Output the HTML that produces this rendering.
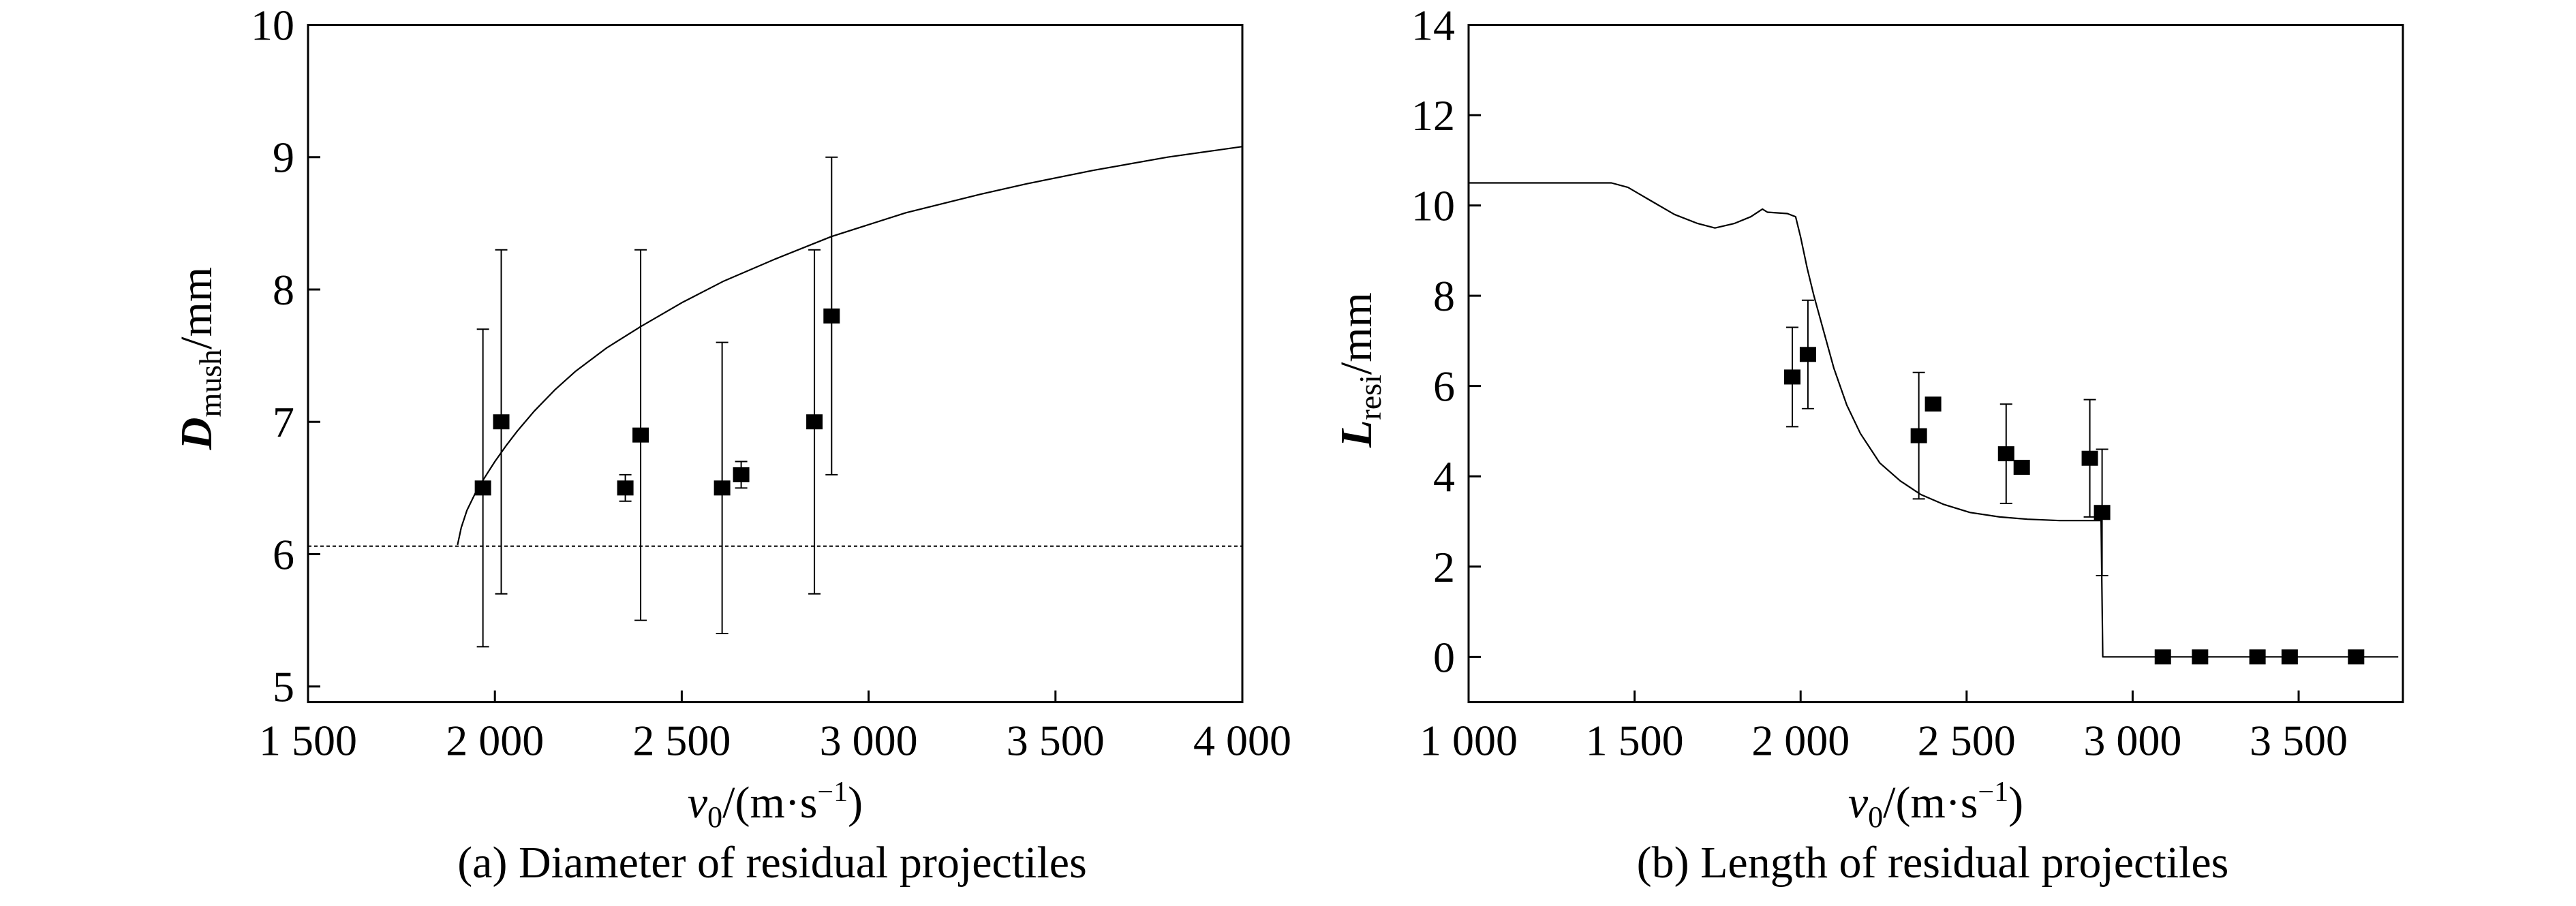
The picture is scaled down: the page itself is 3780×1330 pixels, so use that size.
<!DOCTYPE html>
<html><head><meta charset="utf-8"><style>
html,body{margin:0;padding:0;background:#fff}
svg{display:block}
svg text{font-family:"Liberation Serif","Times New Roman",Times,"Nimbus Roman","DejaVu Serif",serif}
</style></head><body>
<svg id="fig" width="3780" height="1330" viewBox="0 0 3780 1330" xmlns="http://www.w3.org/2000/svg">
<g id="ga"></g>
<g id="gb"></g>
</svg>
<script>
// ---- Chart (a) data ----
const aXTicks = [1500, 2000, 2500, 3000, 3500, 4000];
const aXTickLabels = ["1 500", "2 000", "2 500", "3 000", "3 500", "4 000"];
const aYTicks = [5, 6, 7, 8, 9, 10];
const aYTickLabels = ["5", "6", "7", "8", "9", "10"];
const aPtX = [1968, 2017, 2349, 2390, 2608, 2659, 2855, 2901];
const aPtY = [6.5, 7.0, 6.5, 6.9, 6.5, 6.6, 7.0, 7.8];
const aErrLo = [5.3, 5.7, 6.4, 5.5, 5.4, 6.5, 5.7, 6.6];
const aErrHi = [7.7, 8.3, 6.6, 8.3, 7.6, 6.7, 8.3, 9.0];
const aCurveX = [1900, 1910, 1925, 1951, 1975, 2000, 2030, 2060, 2105, 2160, 2215, 2300, 2390, 2500, 2610, 2750, 2900, 3100, 3300, 3425, 3600, 3800, 4000];
const aCurveY = [6.07, 6.2, 6.33, 6.48, 6.59, 6.7, 6.82, 6.93, 7.08, 7.24, 7.38, 7.56, 7.72, 7.9, 8.06, 8.23, 8.4, 8.58, 8.72, 8.8, 8.9, 9.0, 9.08];
const aDashY = [6.06];

// ---- Chart (b) data ----
const bXTicks = [1000, 1500, 2000, 2500, 3000, 3500];
const bXTickLabels = ["1 000", "1 500", "2 000", "2 500", "3 000", "3 500"];
const bYTicks = [0, 2, 4, 6, 8, 10, 12, 14];
const bYTickLabels = ["0", "2", "4", "6", "8", "10", "12", "14"];
const bPtX = [1975, 2022, 2356, 2399, 2619, 2666, 2871, 2908, 3091, 3203, 3376, 3473, 3673];
const bPtY = [6.2, 6.7, 4.9, 5.6, 4.5, 4.2, 4.4, 3.2, 0, 0, 0, 0, 0];
const bErrX = [1975, 2022, 2356, 2619, 2871, 2908];
const bErrLo = [5.1, 5.5, 3.5, 3.4, 3.1, 1.8];
const bErrHi = [7.3, 7.9, 6.3, 5.6, 5.7, 4.6];
const bCurveX = [1000, 1430, 1480, 1550, 1620, 1690, 1742, 1800, 1850, 1885, 1900, 1960, 1985, 2000, 2020, 2040, 2070, 2100, 2139, 2180, 2238, 2300, 2361, 2430, 2510, 2600, 2683, 2780, 2880, 2905, 2910, 3800];
const bCurveY = [10.5, 10.5, 10.4, 10.1, 9.8, 9.6, 9.5, 9.6, 9.75, 9.92, 9.85, 9.82, 9.75, 9.3, 8.6, 8.0, 7.2, 6.4, 5.58, 4.95, 4.3, 3.9, 3.6, 3.38, 3.2, 3.1, 3.05, 3.02, 3.02, 3.02, 0, 0];

const NS = "http://www.w3.org/2000/svg";
function mk(parent, tag, attrs, txt) {
  const e = document.createElementNS(NS, tag);
  for (const k in attrs) e.setAttribute(k, attrs[k]);
  if (txt !== undefined) e.textContent = txt;
  parent.appendChild(e);
  return e;
}

function drawChart(g, o) {
  const L = o.left, R = o.right, T = o.top, B = o.bottom;
  const sx = v => L + (v - o.xmin) / (o.xmax - o.xmin) * (R - L);
  const sy = v => B - (v - o.ymin) / (o.ymax - o.ymin) * (B - T);

  const fr = mk(g, "rect", {x: L, y: T, width: R - L, height: B - T, fill: "none", stroke: "#000", "stroke-width": 3});
  
  

  o.xt.forEach((v, i) => {
    const x = sx(v);
    const t = mk(g, "line", {x1: x, y1: B, x2: x, y2: B - 17, stroke: "#000", "stroke-width": 3});
    
    
    const lb = mk(g, "text", {x: x, y: B + 78, "font-size": 64, "text-anchor": "middle"}, o.xl[i]);
    
    
  });
  o.yt.forEach((v, i) => {
    const y = sy(v);
    const t = mk(g, "line", {x1: L, y1: y, x2: L + 18, y2: y, stroke: "#000", "stroke-width": 3});
    
    
    const lb = mk(g, "text", {x: L - 20, y: y + 22, "font-size": 64, "text-anchor": "end"}, o.yl[i]);
    
    
  });

  if (o.dash) {
    o.dash.forEach(v => {
      const d = mk(g, "line", {x1: L, y1: sy(v), x2: R, y2: sy(v), stroke: "#000", "stroke-width": 2, "stroke-dasharray": "5,4"});
      
      
    });
  }

  let dstr = "";
  o.cx.forEach((v, i) => { dstr += (i ? "L" : "M") + sx(v).toFixed(1) + "," + sy(o.cy[i]).toFixed(1); });
  const c = mk(g, "path", {d: dstr, fill: "none", stroke: "#000", "stroke-width": 2.2, "stroke-linejoin": "round"});
  
  

  o.ex.forEach((v, i) => {
    const x = sx(v), y1 = sy(o.elo[i]), y2 = sy(o.ehi[i]);
    const eg = mk(g, "g", {stroke: "#000", "stroke-width": 2});
    
    
    mk(eg, "line", {x1: x, y1: y1, x2: x, y2: y2});
    mk(eg, "line", {x1: x - 9, y1: y1, x2: x + 9, y2: y1});
    mk(eg, "line", {x1: x - 9, y1: y2, x2: x + 9, y2: y2});
  });

  o.px.forEach((v, i) => {
    const p = mk(g, "rect", {x: sx(v) - 12, y: sy(o.py[i]) - 11, width: 24, height: 22, fill: "#000"});
    
    
  });

  const xt = mk(g, "text", {x: (L + R) / 2, y: 1200, "font-size": 66, "text-anchor": "middle"});
  
  
  xt.innerHTML = '<tspan font-style="italic">v</tspan><tspan font-size="44" dy="14">0</tspan><tspan dy="-14">/(m·s</tspan><tspan font-size="42" dy="-24">−1</tspan><tspan dy="24">)</tspan>';

  const yt = mk(g, "text", {x: 0, y: 0, "font-size": 66, "text-anchor": "middle", transform: "translate(" + o.ytx + "," + o.yty + ") rotate(-90)"});
  
  
  yt.innerHTML = '<tspan font-style="italic" font-weight="bold">' + o.ysym + '</tspan><tspan font-size="46" dy="14">' + o.ysub + '</tspan><tspan dy="-14">/mm</tspan>';

  const cp = mk(g, "text", {x: o.capx, y: 1288, "font-size": 66, "text-anchor": "middle"}, o.cap);
  
  
}

drawChart(document.getElementById("ga"), {
  left: 452, right: 1823, top: 36.5, bottom: 1030.6,
  xmin: 1500, xmax: 4000, ymin: 10 - (1030.6 - 36.5) / 194.24, ymax: 10,
  xt: aXTicks, xl: aXTickLabels, yt: aYTicks, yl: aYTickLabels,
  px: aPtX, py: aPtY, ex: aPtX, elo: aErrLo, ehi: aErrHi,
  cx: aCurveX, cy: aCurveY, dash: aDashY,
  ytx: 310, yty: 526, ysym: "D", ysub: "mush",
  capx: 1133, cap: "(a) Diameter of residual projectiles"
});
drawChart(document.getElementById("gb"), {
  left: 2155, right: 3526, top: 36.5, bottom: 1030.6,
  xmin: 1000, xmax: 3814, ymin: -1, ymax: 14,
  xt: bXTicks, xl: bXTickLabels, yt: bYTicks, yl: bYTickLabels,
  px: bPtX, py: bPtY, ex: bErrX, elo: bErrLo, ehi: bErrHi,
  cx: bCurveX, cy: bCurveY, dash: null,
  ytx: 2012, yty: 543, ysym: "L", ysub: "resi",
  capx: 2836, cap: "(b) Length of residual projectiles"
});
</script>
</body></html>
